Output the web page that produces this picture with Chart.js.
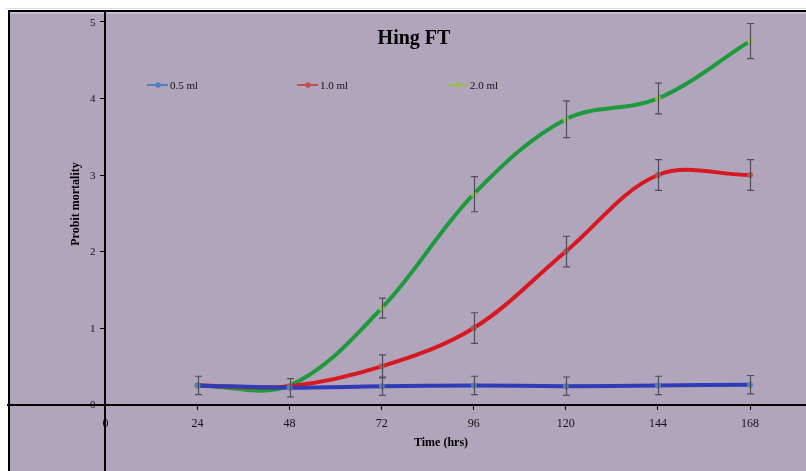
<!DOCTYPE html>
<html>
<head>
<meta charset="utf-8">
<script src="https://cdn.jsdelivr.net/npm/chart.js@4.4.1/dist/chart.umd.min.js"></script>
<style>
  html, body { margin: 0; padding: 0; background: #ffffff; }
  #wrap { width: 806px; height: 471px; position: relative; }
</style>
</head>
<body>
<div id="wrap"><canvas id="hingChart" width="806" height="471"></canvas></div>
<script>
// thoi gian (gio) va gia tri probit
const hours = [24, 48, 72, 96, 120, 144, 168];
const dose05 = [0.25, 0.22, 0.24, 0.25, 0.24, 0.25, 0.26];
const dose10 = [0.25, 0.24, 0.5, 1.0, 2.0, 3.0, 3.0];
const dose20 = [0.25, 0.25, 1.26, 2.75, 3.73, 4.0, 4.75];
// sai so (error bars)
const err05 = [0.12, 0.12, 0.12, 0.12, 0.12, 0.12, 0.12];
const err10 = [0.12, 0.12, 0.15, 0.2, 0.2, 0.2, 0.2];
const err20 = [0.12, 0.12, 0.13, 0.23, 0.24, 0.2, 0.23];
const seriesNames = ['0.5 ml', '1.0 ml', '2.0 ml'];
const xTicks = [0, 24, 48, 72, 96, 120, 144, 168];
const yTicks = [0, 1, 2, 3, 4, 5];

const lineColors = ['#2f3cb6', '#d81820', '#1c9a3c'];
const markColors = ['#4f81bd', '#c0504d', '#9bbb59'];
const serif = '"Liberation Serif", "Times New Roman", serif';

function toPoints(ys) {
    return hours.map((h, i) => ({ x: h, y: ys[i] }));
}

// nen tim + khung, nhan truc y
const bgPlugin = {
    id: 'bgPlugin',
    beforeDraw(chart) {
        const c = chart.ctx;
        c.save();
        c.fillStyle = '#ffffff';
        c.fillRect(0, 0, chart.width, chart.height);
        c.fillStyle = '#dcdcdc';
        c.fillRect(6, 8, chart.width, 1);
        c.fillStyle = '#b1a5bc';
        c.fillRect(8, 10, chart.width, chart.height);
        c.fillStyle = '#000';
        c.fillRect(8, 10, chart.width, 2);
        c.fillRect(8, 10, 2, chart.height);
        c.fillStyle = '#c9bfd1';
        c.fillRect(10, 12, chart.width, 2);

        // nhan truc y (truc dat tai x = 0)
        const xs = chart.scales.x, ys = chart.scales.y;
        const ax = xs.getPixelForValue(0);
        c.fillStyle = '#111';
        c.font = '11px ' + serif;
        c.textAlign = 'right';
        c.textBaseline = 'middle';
        ys.ticks.forEach(t => {
            c.fillText(String(t.value), ax - 10, ys.getPixelForValue(t.value) + 1);
        });
        c.restore();
    }
};

// error bars
const errPlugin = {
    id: 'errPlugin',
    afterDatasetsDraw(chart) {
        const c = chart.ctx;
        const xs = chart.scales.x, ys = chart.scales.y;
        const errs = [err05, err10, err20];
        const vals = [dose05, dose10, dose20];
        c.save();
        c.strokeStyle = '#4d4d55';
        c.lineWidth = 1.2;
        for (let s = 0; s < vals.length; s++) {
            hours.forEach((h, i) => {
                if (s > 0 && i < 2) return; // trung nhau o 24 va 48
                const px = Math.round(xs.getPixelForValue(h)) + 0.5;
                const top = ys.getPixelForValue(vals[s][i] + errs[s][i]);
                const bot = ys.getPixelForValue(vals[s][i] - errs[s][i]);
                c.beginPath();
                c.moveTo(px, top); c.lineTo(px, bot);
                c.moveTo(px - 3.5, top); c.lineTo(px + 3.5, top);
                c.moveTo(px - 3.5, bot); c.lineTo(px + 3.5, bot);
                c.stroke();
            });
        }
        c.restore();
    }
};

// tieu de, chu thich, ten truc
const textPlugin = {
    id: 'textPlugin',
    afterDraw(chart) {
        const c = chart.ctx;
        const xs = chart.scales.x, ys = chart.scales.y;
        const area = chart.chartArea;

        // keo dai 2 truc toi mep anh
        c.save();
        c.fillStyle = '#000';
        const ax = Math.round(xs.getPixelForValue(0));
        const ay = Math.round(ys.getPixelForValue(0));
        c.fillRect(ax - 1, area.bottom - 1, 2, chart.height - area.bottom + 1);
        c.fillRect(area.right - 1, ay - 1, chart.width - area.right + 1, 2);
        c.restore();

        c.save();
        c.fillStyle = '#000';
        c.textAlign = 'center';
        c.textBaseline = 'middle';
        c.font = 'bold 20px ' + serif;
        c.fillText('Hing FT', 414, 39);
        c.font = 'bold 12px ' + serif;
        c.fillText('Time (hrs)', 441, 443);
        c.translate(76, 204);
        c.rotate(-Math.PI / 2);
        c.fillText('Probit mortality', 0, 0);
        c.restore();

        // legend
        c.save();
        c.font = '11px ' + serif;
        c.textBaseline = 'middle';
        c.textAlign = 'left';
        const lx = [147, 297, 447];
        const ly = 85;
        seriesNames.forEach((name, i) => {
            c.strokeStyle = markColors[i];
            c.lineWidth = 2;
            c.beginPath();
            c.moveTo(lx[i], ly); c.lineTo(lx[i] + 21, ly);
            c.stroke();
            c.fillStyle = markColors[i];
            c.beginPath();
            c.arc(lx[i] + 11, ly, 2.8, 0, Math.PI * 2);
            c.fill();
            c.fillStyle = '#111';
            c.fillText(name, lx[i] + 23, ly + 1);
        });
        c.restore();
    }
};

function makeDataset(i, ys) {
    return {
        label: seriesNames[i],
        data: toPoints(ys),
        borderColor: lineColors[i],
        borderWidth: 4,
        tension: 0.35,
        pointRadius: 3,
        pointBorderWidth: 0,
        pointBackgroundColor: markColors[i],
        fill: false
    };
}

const ctx = document.getElementById('hingChart').getContext('2d');
const hingChart = new Chart(ctx, {
    type: 'line',
    data: {
        datasets: [makeDataset(0, dose05), makeDataset(1, dose10), makeDataset(2, dose20)]
    },
    options: {
        responsive: false,
        animation: false,
        layout: { padding: { left: 8, top: 11, right: 0, bottom: 0 } },
        plugins: {
            legend: { display: false },
            tooltip: { enabled: false },
            title: { display: false }
        },
        scales: {
            x: {
                type: 'linear',
                position: { y: 0 },
                min: -25.4,
                max: 181.55,
                bounds: 'data',
                afterBuildTicks: (scale) => { scale.ticks = xTicks.map(v => ({ value: v })); },
                afterFit: (scale) => { scale.paddingLeft = 0; scale.paddingRight = 0; },
                grid: { drawOnChartArea: false, drawTicks: true, tickLength: 4, color: '#000' },
                border: { display: true, color: '#000', width: 2 },
                ticks: { color: '#111', padding: 8, maxRotation: 0, font: { family: serif, size: 12 } }
            },
            y: {
                type: 'linear',
                position: { x: 0 },
                min: -0.816,
                max: 5.1436,
                bounds: 'data',
                afterBuildTicks: (scale) => { scale.ticks = yTicks.map(v => ({ value: v })); },
                afterFit: (scale) => { scale.paddingTop = 0; scale.paddingBottom = 0; },
                grid: { drawOnChartArea: false, drawTicks: true, tickLength: 4, color: '#000' },
                border: { display: true, color: '#000', width: 2 },
                ticks: { display: false }
            }
        }
    },
    plugins: [bgPlugin, errPlugin, textPlugin]
});
</script>
</body>
</html>
